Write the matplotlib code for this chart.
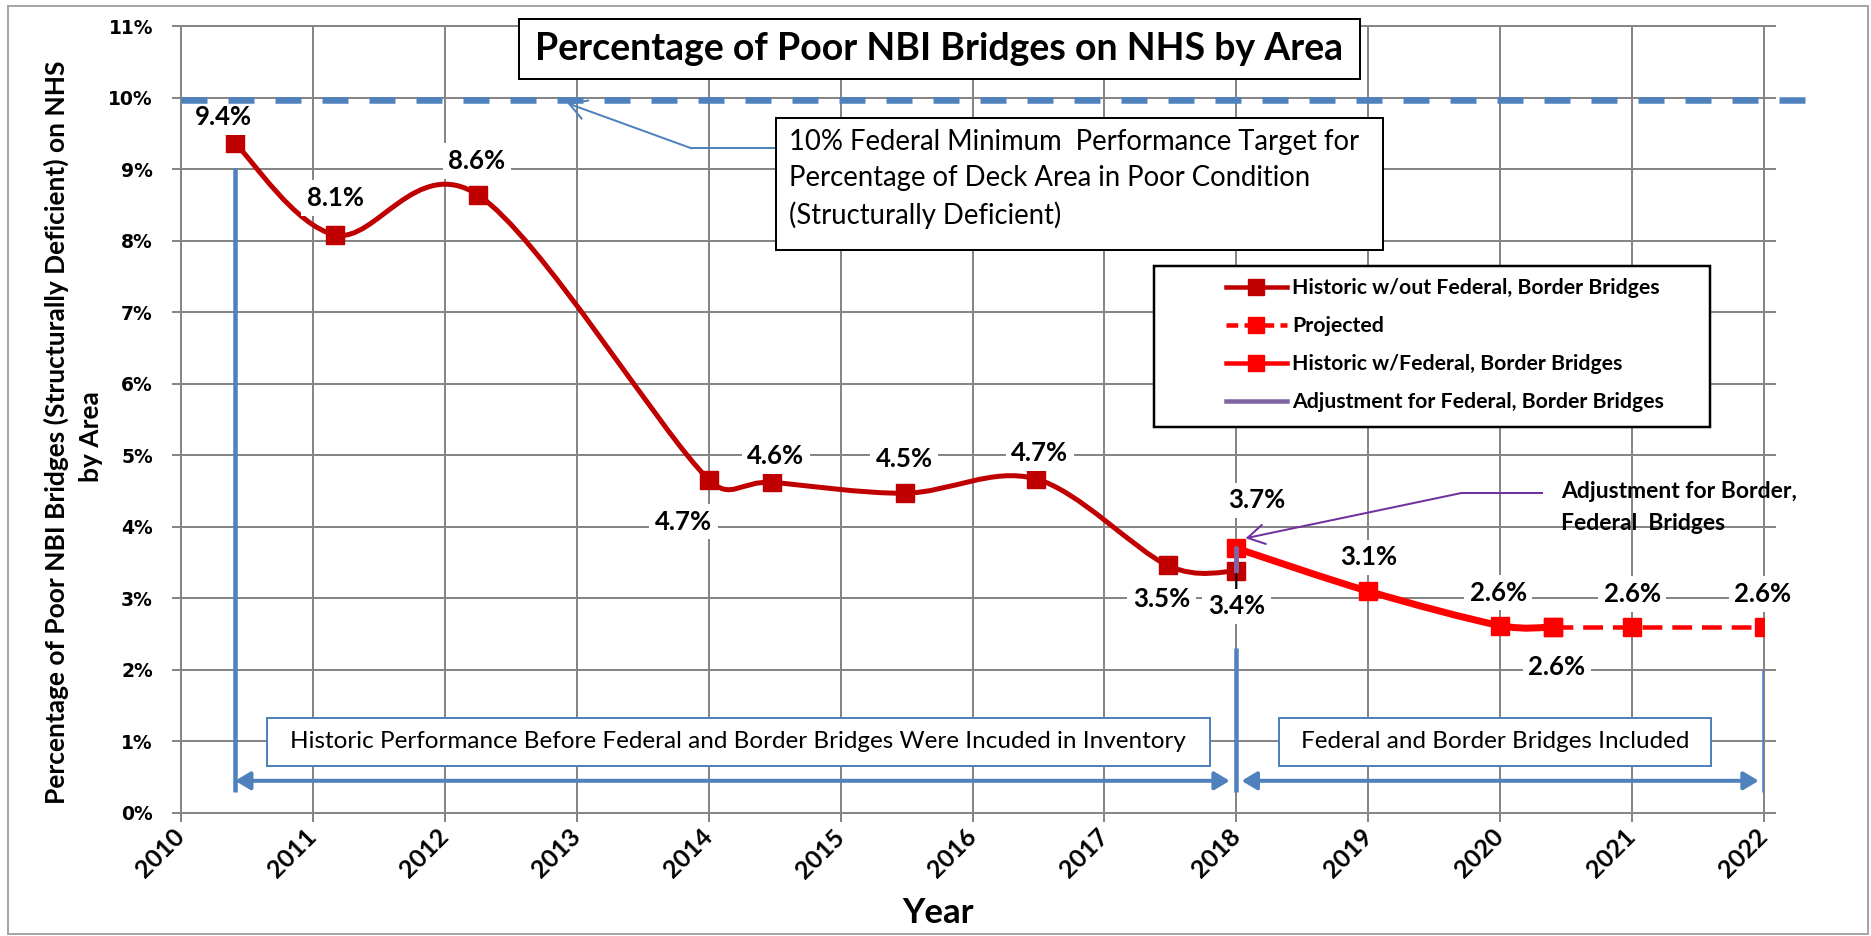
import numpy as np
import matplotlib.pyplot as plt
from matplotlib.path import Path
from matplotlib.patches import PathPatch, Rectangle
from matplotlib.lines import Line2D
from matplotlib.transforms import ScaledTranslation

W, H = 1871, 936

# percent of NHS bridge deck area in poor condition
hist_years = [2010.41, 2011.17, 2012.25, 2014.0, 2014.48, 2015.49, 2016.48, 2017.48, 2018.0]
hist_pct = [9.36, 8.08, 8.64, 4.66, 4.62, 4.47, 4.67, 3.46, 3.38]
fed_years = [2018.0, 2019.0, 2020.0, 2020.4]
fed_pct = [3.70, 3.10, 2.62, 2.60]
proj_years = [2020.4, 2021.0, 2022.0]
proj_pct = [2.60, 2.60, 2.60]
target_pct = 10

year_ticks = list(range(2010, 2023))
pct_ticks = list(range(0, 12))

series_names = ['Historic w/out Federal, Border Bridges', 'Projected',
                'Historic w/Federal, Border Bridges',
                'Adjustment for Federal, Border Bridges']

# data label offsets in pixels (dx, dy)
hist_offsets = [(-12, 26), (0, 37), (-1, 34), (-25, -42), (4, 26), (-1, 34),
                (4, 26), (-6, -34), (0, -35)]
fed_offsets = [(20, 48), (0, 34), (-2, 33), (4, -40)]
proj_offsets = [(0, 33), (-1, 33)]

DARK = '#C00000'
RED = '#FF0000'
BLUE = '#4F81BD'
PURPLE = '#7030A0'
LAVENDER = '#8064A2'
GRID = '#868686'
PT = 0.72  # points per pixel at 100 dpi

plt.rcParams['font.family'] = ['Lato', 'DejaVu Sans']

fig = plt.figure(figsize=(W / 100, H / 100), dpi=100)
ax = fig.add_axes([181 / W, 1 - 813 / H, (1764 - 181) / W, (813 - 26) / H])
ax.set_xlim(2010, 2022)
ax.set_ylim(0, 11)

# grid and axes
ax.set_axisbelow(True)
ax.grid(True, color=GRID, lw=2 * PT)
for s in ax.spines.values():
    s.set_color(GRID)
    s.set_linewidth(2 * PT)
ax.set_xticks(year_ticks)
ax.set_xticklabels([str(y) for y in year_ticks], rotation=45, ha='right',
                   va='center', rotation_mode='anchor', fontsize=18,
                   fontweight='bold')
shift = ScaledTranslation(8 / 100, -3 / 100, fig.dpi_scale_trans)
for lbl in ax.get_xticklabels():
    lbl.set_transform(lbl.get_transform() + shift)
ax.set_yticks(pct_ticks)
ax.set_yticklabels([f'{p}%' for p in pct_ticks], fontsize=13.5,
                   fontweight='bold', family='DejaVu Sans')
ax.tick_params(axis='x', direction='out', length=9 * PT, width=2 * PT,
               color=GRID, pad=8)
ax.tick_params(axis='y', direction='inout', length=18 * PT, width=2 * PT,
               color=GRID, pad=13.7)
# short stubs where the gridlines run past the right edge
for p in pct_ticks:
    ax.plot([2022, 2022.08], [p, p], color=GRID, lw=2 * PT, clip_on=False,
            zorder=1)

# Excel-like smoothed line: bezier through the points, built in pixel space
kx = (1764 - 181) / 12
ky = (813 - 26) / 11


def cap(v, m):
    n = np.hypot(*v)
    return v * (m / n) if n > m else v


def smooth(xs, ys):
    p = np.column_stack([np.asarray(xs) * kx, np.asarray(ys) * ky])
    n = len(p)
    verts, codes = [p[0]], [Path.MOVETO]
    for i in range(n - 1):
        a, b = p[i], p[i + 1]
        t1 = (b - p[max(i - 1, 0)]) / 6
        t2 = (p[min(i + 2, n - 1)] - a) / 6
        half = np.hypot(*(b - a)) / 2
        verts += [a + cap(t1, half), b - cap(t2, half), b]
        codes += [Path.CURVE4] * 3
    return Path(np.array(verts) / [kx, ky], codes)


ax.add_patch(PathPatch(smooth(hist_years, hist_pct), fill=False, ec=DARK,
                       lw=5 * PT, zorder=4))
ax.plot(hist_years, hist_pct, ls='none', marker='s', ms=18 * PT, color=DARK,
        zorder=5)
ax.add_patch(PathPatch(smooth(fed_years, fed_pct), fill=False, ec=RED,
                       lw=7 * PT, zorder=4))
ax.plot(fed_years, fed_pct, ls='none', marker='s', ms=18 * PT, color=RED,
        zorder=5)
ax.plot(proj_years, proj_pct, color=RED, lw=4.5 * PT, dashes=(4.4, 2.2),
        marker='s', ms=18 * PT, zorder=4)

# adjustment between the two historic series
ax.plot([hist_years[-1], fed_years[0]], [hist_pct[-1], fed_pct[0]],
        color=LAVENDER, lw=5 * PT, zorder=5.5, solid_capstyle='round')


def label_points(xs, ys, offsets, leader=None):
    for i, (x, y, (dx, dy)) in enumerate(zip(xs, ys, offsets)):
        props = None
        if i == leader:
            props = dict(arrowstyle='-', color='black', lw=1.5, shrinkA=0,
                         shrinkB=2)
        ax.annotate(f'{y:.1f}%', (x, y), xytext=(dx * PT, dy * PT),
                    textcoords='offset points', ha='center', va='center',
                    fontsize=18.5, fontweight='bold', arrowprops=props,
                    bbox=dict(boxstyle='square,pad=0.22', fc='white',
                              ec='none'), zorder=6)


label_points(hist_years, hist_pct, hist_offsets, leader=len(hist_years) - 1)
label_points(fed_years, fed_pct, fed_offsets)
label_points(proj_years[1:], proj_pct[1:], proj_offsets)

# 10% federal target line
ax.plot([2010, 2022.31], [target_pct - 0.03] * 2, color=BLUE, lw=6.5 * PT,
        dashes=(26 / 6.5, 21 / 6.5), dash_capstyle='butt', clip_on=False,
        zorder=7)

# period brackets
for x, top in [(hist_years[0], 9.02), (fed_years[0], 2.31), (proj_years[-1], 2.0)]:
    ax.plot([x, x], [0.30, top], color=BLUE, lw=4.5 * PT, zorder=3,
            solid_capstyle='butt')
arrow = dict(arrowstyle='<|-|>,head_length=0.75,head_width=0.45', color=BLUE,
             lw=4 * PT, mutation_scale=12, shrinkA=0, shrinkB=0)
ax.annotate('', xy=(2017.95, 0.45), xytext=(hist_years[0], 0.45),
            arrowprops=arrow, zorder=3)
ax.annotate('', xy=(2021.96, 0.45), xytext=(2018.04, 0.45),
            arrowprops=arrow, zorder=3)

for x0, x1, txt in [(2010.65, 2017.80, 'Historic Performance Before Federal and '
                     'Border Bridges Were Incuded in Inventory'),
                    (2018.32, 2021.60, 'Federal and Border Bridges Included')]:
    ax.add_patch(Rectangle((x0, 0.66), x1 - x0, 0.67, fc='white', ec=BLUE,
                           lw=2 * PT, zorder=3))
    ax.text((x0 + x1) / 2, 0.995, txt, ha='center', va='center',
            fontsize=17.5, zorder=3.5)

# callout for the 10% target
ax.plot([2014.51, 2013.87], [9.29, 9.29], color=BLUE, lw=2 * PT, zorder=3)
ax.annotate('', xy=(2012.93, 9.92), xytext=(2013.87, 9.29),
            arrowprops=dict(arrowstyle='->,head_length=0.6,head_width=0.35',
                            color=BLUE, lw=2 * PT, mutation_scale=20,
                            shrinkA=0, shrinkB=0), zorder=3)

# callout for the adjustment
ax.plot([2020.32, 2019.70], [4.47, 4.47], color=PURPLE, lw=2 * PT, zorder=3)
ax.annotate('', xy=(2018.07, 3.84), xytext=(2019.70, 4.47),
            arrowprops=dict(arrowstyle='->,head_length=0.6,head_width=0.35',
                            color=PURPLE, lw=2 * PT, mutation_scale=20,
                            shrinkA=0, shrinkB=0), zorder=3)


def fx(px):
    return px / W


def fy(py):
    return 1 - py / H


fig.text(fx(1561), fy(492), 'Adjustment for Border,', fontsize=16.5,
         fontweight='bold', va='center')
fig.text(fx(1561), fy(523), 'Federal  Bridges', fontsize=16.5,
         fontweight='bold', va='center')

# title box
fig.patches.append(Rectangle((fx(519), fy(79)), (1360 - 519) / W, 60 / H,
                             transform=fig.transFigure, fc='white', ec='black',
                             lw=2 * PT, zorder=10))
fig.text(fx(939.5), fy(49), 'Percentage of Poor NBI Bridges on NHS by Area',
         ha='center', va='center', fontsize=27, fontweight='bold', zorder=11)

# target note box
fig.patches.append(Rectangle((fx(776), fy(250)), (1383 - 776) / W, 132 / H,
                             transform=fig.transFigure, fc='white', ec='black',
                             lw=2 * PT, zorder=10))
for py, line in [(142, '10% Federal Minimum  Performance Target for'),
                 (178, 'Percentage of Deck Area in Poor Condition'),
                 (215, '(Structurally Deficient)')]:
    fig.text(fx(789), fy(py), line, va='center', fontsize=19.8, zorder=11)

# legend
fig.patches.append(Rectangle((fx(1154), fy(427)), (1710 - 1154) / W, 161 / H,
                             transform=fig.transFigure, fc='white', ec='black',
                             lw=2.5 * PT, zorder=10))
handles = [
    Line2D([], [], color=DARK, lw=4.5 * PT, marker='s', ms=16 * PT),
    Line2D([], [], color=RED, lw=4.5 * PT, marker='s', ms=16 * PT,
           dashes=(2.6, 1.4)),
    Line2D([], [], color=RED, lw=4.5 * PT, marker='s', ms=16 * PT),
    Line2D([], [], color=LAVENDER, lw=4.5 * PT),
]
leg = fig.legend(handles, series_names, loc='upper left',
                 bbox_to_anchor=(fx(1226), fy(278)), frameon=False,
                 borderpad=0, borderaxespad=0, handlelength=2.85,
                 handletextpad=0.27, labelspacing=0.85,
                 prop=dict(size=15.3, weight='bold'))
leg.set_zorder(11)

# axis titles
fig.text(fx(938), fy(913), 'Year', ha='center', va='center', fontsize=25,
         fontweight='bold')
fig.text(fx(56), fy(432), 'Percentage of Poor NBI Bridges (Structurally '
         'Deficient) on NHS', rotation=90, ha='center', va='center',
         fontsize=19, fontweight='bold')
fig.text(fx(91), fy(437), 'by Area', rotation=90, ha='center', va='center',
         fontsize=19, fontweight='bold')

# chart frame
fig.patches.append(Rectangle((fx(8), fy(934)), 1860 / W, 928 / H,
                             transform=fig.transFigure, fill=False,
                             ec='#A6A6A6', lw=2 * PT))

fig.savefig('out.png', dpi=100)
